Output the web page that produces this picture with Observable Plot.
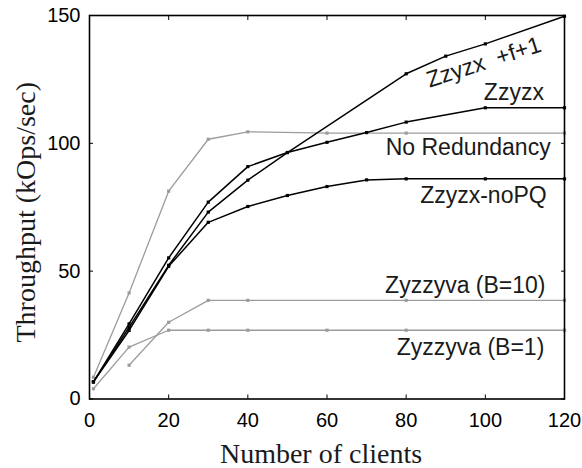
<!DOCTYPE html>
<html><head><meta charset="utf-8">
<script src="https://cdn.jsdelivr.net/npm/d3@7"></script>
<script src="https://cdn.jsdelivr.net/npm/@observablehq/plot@0.6"></script>
<style>body{margin:0;background:#fff}</style>
</head><body><div id="chart"></div>
<script>
const xTicks = [0, 20, 40, 60, 80, 100, 120];
const yTicks = [0, 50, 100, 150];

const zzyzxF1X = [1, 10, 20, 30, 40, 50, 80, 90, 100, 120];
const zzyzxF1Y = [6.7, 28, 52.3, 73.1, 85.6, 96.4, 127.2, 134.1, 138.9, 149.7];
const zzyzxX = [1, 10, 20, 30, 40, 50, 60, 70, 80, 100, 120];
const zzyzxY = [6.7, 29.4, 55.2, 77.0, 90.9, 96.4, 100.4, 104.2, 108.3, 113.9, 113.9];
const noPQX = [1, 10, 20, 30, 40, 50, 60, 70, 80, 100, 120];
const noPQY = [6.7, 26.8, 51.9, 69.1, 75.3, 79.6, 83.1, 85.7, 86.1, 86.1, 86.1];
const noRedX = [1, 10, 20, 30, 40, 60, 80, 120];
const noRedY = [8.5, 41.5, 81.3, 101.6, 104.5, 104, 104, 104];
const b10X = [10, 20, 30, 40, 80, 120];
const b10Y = [13.2, 30.0, 38.6, 38.6, 38.6, 38.6];
const b1X = [1, 10, 20, 30, 40, 60, 80, 120];
const b1Y = [4.0, 20.3, 26.9, 26.9, 26.9, 26.9, 26.9, 26.9];

const seriesNames = ["Zzyzx +f+1", "Zzyzx", "Zzyzx-noPQ", "No Redundancy", "Zyzzyva (B=10)", "Zyzzyva (B=1)"];

function rows(name, xs, ys) { return xs.map((v, i) => ({series: name, x: v, y: ys[i]})); }
const blackRows = [
  ...rows(seriesNames[0], zzyzxF1X, zzyzxF1Y),
  ...rows(seriesNames[1], zzyzxX, zzyzxY),
  ...rows(seriesNames[2], noPQX, noPQY)
];
const grayRows = [
  ...rows(seriesNames[3], noRedX, noRedY),
  ...rows(seriesNames[4], b10X, b10Y),
  ...rows(seriesNames[5], b1X, b1Y)
];

// annotation placement (label text drawn near each curve)
const rotatedLabel = [{text: "Zzyzx  +f+1", x: 99.6, y: 131.7}];
const endLabels = [
  {text: "Zzyzx", x: 114.8, y: 119.7},
  {text: "No Redundancy", x: 116.5, y: 98.5},
  {text: "Zzyzx-noPQ", x: 115.5, y: 79.4},
  {text: "Zyzzyva (B=10)", x: 115.2, y: 44.5},
  {text: "Zyzzyva (B=1)", x: 114.9, y: 20.2}
];

const gray = "#9c9c9c";
const sans = "Liberation Sans, Arial, sans-serif";
const serif = "Liberation Serif, Times New Roman, serif";

const chart = Plot.plot({
  width: 582, height: 468,
  marginLeft: 89, marginRight: 18, marginTop: 15, marginBottom: 69.5,
  style: {fontFamily: sans, background: "#fff"},
  x: {domain: [0, 120]},
  y: {domain: [0, 150]},
  marks: [
    Plot.line(grayRows, {x: "x", y: "y", z: "series", stroke: gray, strokeWidth: 1.3}),
    Plot.dot(grayRows, {x: "x", y: "y", symbol: "square", r: 1.8, fill: gray, stroke: null}),
    Plot.line(blackRows, {x: "x", y: "y", z: "series", stroke: "black", strokeWidth: 1.5}),
    Plot.dot(blackRows, {x: "x", y: "y", symbol: "square", r: 1.8, fill: "black", stroke: null}),
    Plot.frame({stroke: "black", strokeWidth: 1.6}),
    Plot.axisX(xTicks, {anchor: "bottom", tickSize: 0, tickPadding: 14, fontSize: 20, fill: "black", label: null}),
    Plot.axisY(yTicks, {anchor: "left", tickSize: 0, tickPadding: 9, fontSize: 20, fill: "black", label: null}),
    Plot.axisX(xTicks, {anchor: "bottom", tickSize: 4, tickFormat: () => "", label: null, ariaLabel: "inticks"}),
    Plot.axisX(xTicks, {anchor: "top", tickSize: 4, tickFormat: () => "", label: null, ariaLabel: "inticks"}),
    Plot.axisY(yTicks, {anchor: "left", tickSize: 4, tickFormat: () => "", label: null, ariaLabel: "inticks"}),
    Plot.axisY(yTicks, {anchor: "right", tickSize: 4, tickFormat: () => "", label: null, ariaLabel: "inticks"}),
    Plot.text(rotatedLabel, {x: "x", y: "y", text: "text", textAnchor: "middle", rotate: -18, fontSize: 23, fill: "#1a1a1a"}),
    Plot.text(endLabels, {x: "x", y: "y", text: "text", textAnchor: "end", fontSize: 23, fill: "#1a1a1a"}),
    Plot.text(["Number of clients"], {frameAnchor: "bottom", textAnchor: "middle", lineAnchor: "middle", dy: 55, dx: -6, fontSize: 28, fontFamily: serif, fill: "#1a1a1a"}),
    Plot.text(["Throughput (kOps/sec)"], {frameAnchor: "left", textAnchor: "middle", lineAnchor: "middle", rotate: -90, dx: -63, dy: 5, fontSize: 28, fontFamily: serif, fill: "#1a1a1a"})
  ]
});
// turn the tick marks inward, as in the reference
d3.select(chart).selectAll("g[aria-label*='tick'] path").attr("d", function() {
  const d = this.getAttribute("d") || "";
  return d.replace(/L(-?[\d.]+),(-?[\d.]+)/, (m, a, b) => `L${-a},${-b}`);
});
document.getElementById("chart").appendChild(chart);
</script>
</body></html>
